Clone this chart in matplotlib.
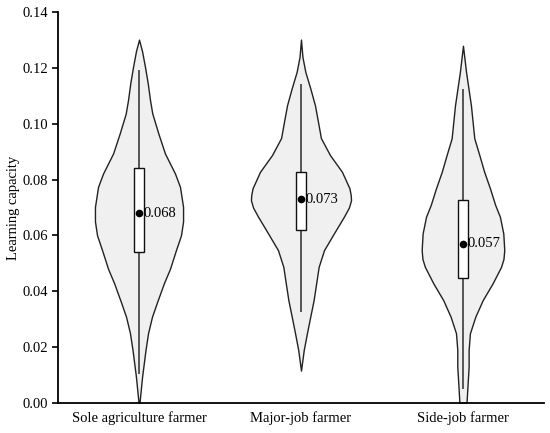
import numpy as np
import matplotlib
matplotlib.use("Agg")
import matplotlib.pyplot as plt

plt.rcParams['font.family'] = ['Liberation Serif', 'DejaVu Serif']

# groups and summary stats
groups = ['Sole agriculture farmer', 'Major-job farmer', 'Side-job farmer']
medians = [0.068, 0.073, 0.057]
q1 = [0.0540, 0.0619, 0.0446]
q3 = [0.0841, 0.0828, 0.0727]
whisk_lo = [0.0107, 0.0329, 0.0054]
whisk_hi = [0.1190, 0.1139, 0.1120]

# violin outlines: y levels and half widths (in category units)
v1_y = [0.1302, 0.1260, 0.1204, 0.1145, 0.1085, 0.1037, 0.0966, 0.0894, 0.0822, 0.0774,
        0.0702, 0.0650, 0.0600, 0.0547, 0.0480, 0.0429, 0.0360, 0.0308, 0.0250, 0.0189,
        0.0093, 0.0000]
v1_w = [0.000, 0.019, 0.037, 0.054, 0.068, 0.082, 0.119, 0.160, 0.222, 0.253,
        0.272, 0.272, 0.259, 0.228, 0.191, 0.154, 0.111, 0.080, 0.056, 0.040,
        0.019, 0.003]
v2_y = [0.1302, 0.1240, 0.1186, 0.1128, 0.1067, 0.1007, 0.0949, 0.0888, 0.0828, 0.0769,
        0.0745, 0.0726, 0.0700, 0.0667, 0.0608, 0.0547, 0.0487, 0.0429, 0.0368, 0.0308,
        0.0250, 0.0189, 0.0115]
v2_w = [0.000, 0.009, 0.027, 0.057, 0.086, 0.105, 0.123, 0.179, 0.253, 0.299,
        0.307, 0.309, 0.296, 0.265, 0.204, 0.142, 0.109, 0.094, 0.078, 0.057,
        0.037, 0.017, 0.000]
v3_y = [0.1280, 0.1186, 0.1067, 0.0948, 0.0888, 0.0828, 0.0768, 0.0709, 0.0667, 0.0607,
        0.0547, 0.0515, 0.0487, 0.0428, 0.0368, 0.0308, 0.0249, 0.0189, 0.0129, 0.0071,
        0.0000]
v3_w = [0.000, 0.019, 0.049, 0.070, 0.101, 0.131, 0.167, 0.199, 0.228, 0.249,
        0.255, 0.250, 0.235, 0.183, 0.122, 0.076, 0.043, 0.035, 0.035, 0.029,
        0.022]

profiles = [(v1_y, v1_w), (v2_y, v2_w), (v3_y, v3_w)]
yticks = [0.00, 0.02, 0.04, 0.06, 0.08, 0.10, 0.12, 0.14]

fig = plt.figure(figsize=(5.5, 4.33), dpi=100)
ax = fig.add_axes([0.1055, 0.070, 0.8835, 0.9016])

box_w = 0.057
for i, (vy, vw) in enumerate(profiles):
    vy = np.array(vy)
    vw = np.array(vw)
    ax.fill_betweenx(vy, i - vw, i + vw, facecolor='#f0f0f0', edgecolor='#222222',
                     linewidth=1.0, joinstyle='round', zorder=1)
    # whisker
    ax.plot([i, i], [whisk_lo[i], whisk_hi[i]], color='#555555', linewidth=1.4, zorder=2)
    # box
    ax.add_patch(plt.Rectangle((i - box_w / 2, q1[i]), box_w, q3[i] - q1[i],
                               facecolor='white', edgecolor='#111111', linewidth=1.0, zorder=3))
    ax.plot(i, medians[i], 'o', color='black', markersize=4.5, zorder=4)
    ax.annotate('%.3f' % medians[i], (i, medians[i]), xytext=(3.5, 0),
                textcoords='offset points', ha='left', va='center', fontsize=10.5, zorder=5)

ax.set_xlim(-0.5, 2.5)
ax.set_ylim(0, 0.14)
ax.set_xticks(range(len(groups)))
ax.set_xticklabels(groups, fontsize=10.5)
ax.set_yticks(yticks)
ax.set_yticklabels(['%.2f' % t for t in yticks], fontsize=10.5)
ax.tick_params(axis='x', length=0, pad=6)
ax.tick_params(axis='y', direction='out', length=4, width=1.2, pad=3)
ax.set_ylabel('Learning capacity', fontsize=10.5, labelpad=2)

ax.spines['top'].set_visible(False)
ax.spines['right'].set_visible(False)
ax.spines['left'].set_linewidth(1.3)
ax.spines['bottom'].set_linewidth(1.3)

fig.savefig('out.png', dpi=100)
